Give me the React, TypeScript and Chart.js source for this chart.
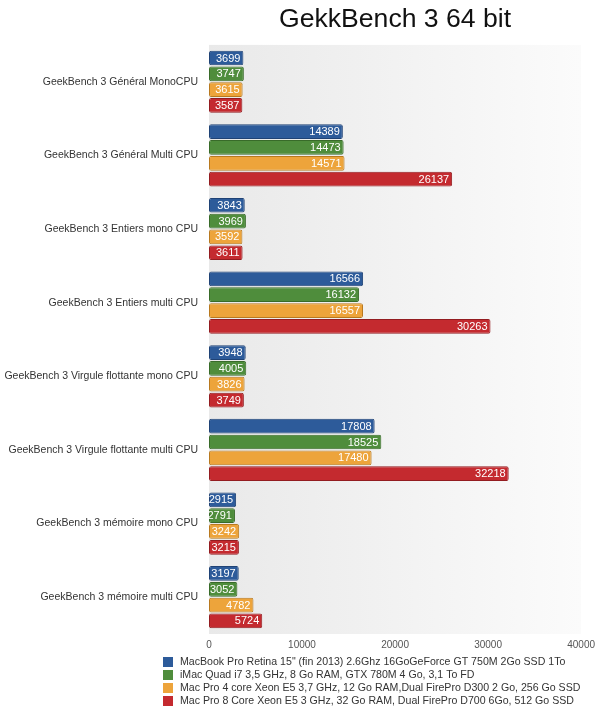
import React, { useEffect, useRef } from "react";
import { Chart, registerables } from "chart.js";

Chart.register(...registerables);

const categories = [
  "GeekBench 3 Général MonoCPU",
  "GeekBench 3 Général Multi CPU",
  "GeekBench 3 Entiers mono CPU",
  "GeekBench 3 Entiers multi CPU",
  "GeekBench 3 Virgule flottante mono CPU",
  "GeekBench 3 Virgule flottante multi CPU",
  "GeekBench 3 mémoire mono CPU",
  "GeekBench 3 mémoire multi CPU",
];

const seriesLabels = [
  "MacBook Pro Retina 15\" (fin 2013) 2.6Ghz 16GoGeForce GT 750M 2Go SSD 1To",
  "iMac Quad i7 3,5 GHz, 8 Go RAM, GTX 780M 4 Go, 3,1 To FD",
  "Mac Pro 4 core Xeon E5 3,7 GHz, 12 Go RAM,Dual FirePro D300 2 Go, 256 Go SSD",
  "Mac Pro 8 Core Xeon E5 3 GHz, 32 Go RAM, Dual FirePro D700 6Go, 512 Go SSD",
];

const macbookPro = [3699, 14389, 3843, 16566, 3948, 17808, 2915, 3197];
const iMacQuad = [3747, 14473, 3969, 16132, 4005, 18525, 2791, 3052];
const macPro4 = [3615, 14571, 3592, 16557, 3826, 17480, 3242, 4782];
const macPro8 = [3587, 26137, 3611, 30263, 3749, 32218, 3215, 5724];

const xTicks = [0, 10000, 20000, 30000, 40000];

const colors = ["#2d5b9a", "#4f8d3c", "#eda43b", "#c42a2f"];
const borders = ["#1f4275", "#386b29", "#b8791f", "#931c20"];

const FONT = "'Liberation Sans', Arial, Helvetica, sans-serif";

export default function App() {
  const ref = useRef<HTMLCanvasElement | null>(null);

  useEffect(() => {
    document.body.style.margin = "0";
    const canvas = ref.current;
    if (!canvas) return;

    const bgPlugin = {
      id: "bgGradient",
      beforeDraw(chart: any) {
        const { ctx, chartArea } = chart;
        if (!chartArea) return;
        const g = ctx.createLinearGradient(chartArea.left, 0, chartArea.right, 0);
        g.addColorStop(0, "#e9e9e9");
        g.addColorStop(1, "#fbfbfb");
        ctx.save();
        ctx.fillStyle = "#ffffff";
        ctx.fillRect(0, 0, chart.width, chart.height);
        ctx.fillStyle = g;
        ctx.fillRect(chartArea.left, chartArea.top, chartArea.right - chartArea.left, chartArea.bottom - chartArea.top);
        ctx.restore();
      },
    };

    const valuePlugin = {
      id: "valueLabels",
      afterDatasetsDraw(chart: any) {
        const { ctx } = chart;
        ctx.save();
        ctx.font = `11px ${FONT}`;
        ctx.fillStyle = "#ffffff";
        ctx.textAlign = "right";
        ctx.textBaseline = "middle";
        chart.data.datasets.forEach((ds: any, i: number) => {
          const meta = chart.getDatasetMeta(i);
          meta.data.forEach((bar: any, j: number) => {
            ctx.fillText(String(ds.data[j]), bar.x - 3, bar.y + 0.5);
          });
        });
        ctx.restore();
      },
    };

    const legendPlugin = {
      id: "customLegend",
      afterDraw(chart: any) {
        const { ctx } = chart;
        ctx.save();
        ctx.font = `10.6px ${FONT}`;
        ctx.textAlign = "left";
        ctx.textBaseline = "middle";
        seriesLabels.forEach((label, i) => {
          const y = 662 + i * 13;
          ctx.fillStyle = colors[i];
          ctx.fillRect(163, y - 5, 10, 10);
          ctx.fillStyle = "#333333";
          ctx.fillText(label, 180, y);
        });
        ctx.restore();
      },
    };

    const datasetsSrc = [macbookPro, iMacQuad, macPro4, macPro8];

    const chart = new Chart(canvas, {
      type: "bar",
      data: {
        labels: categories,
        datasets: datasetsSrc.map((d, i) => ({
          label: seriesLabels[i],
          data: d,
          backgroundColor: colors[i],
          borderColor: borders[i],
          borderWidth: 1,
          borderRadius: 2,
          borderSkipped: false,
          categoryPercentage: 0.86,
          barPercentage: 0.93,
        })),
      },
      options: {
        indexAxis: "y",
        animation: false,
        responsive: false,
        maintainAspectRatio: false,
        layout: { padding: { top: 2, right: 0, bottom: 51, left: 0 } },
        plugins: {
          legend: { display: false },
          tooltip: { enabled: false },
          title: {
            display: true,
            text: "GekkBench 3 64 bit",
            fullSize: false,
            color: "#111111",
            font: { family: FONT, size: 26.6, weight: "normal" },
            padding: { top: 2, bottom: 9 },
          },
        },
        scales: {
          x: {
            min: 0,
            max: 40000,
            afterBuildTicks(axis: any) {
              axis.ticks = xTicks.map((v) => ({ value: v }));
            },
            grid: { display: false, drawTicks: false },
            border: { display: false },
            ticks: {
              color: "#555555",
              font: { family: FONT, size: 10 },
              padding: 5,
              maxRotation: 0,
              callback: (v: any) => String(v),
            },
          },
          y: {
            afterFit(axis: any) {
              axis.width = 209;
            },
            grid: { display: false, drawTicks: false },
            border: { display: false },
            ticks: {
              color: "#333333",
              font: { family: FONT, size: 10.5 },
              padding: 11,
            },
          },
        },
      },
      plugins: [bgPlugin, valuePlugin, legendPlugin],
    });

    return () => chart.destroy();
  }, []);

  return (
    <div style={{ width: 600, height: 707 }}>
      <canvas ref={ref} width={600} height={707} style={{ display: "block" }} />
    </div>
  );
}
